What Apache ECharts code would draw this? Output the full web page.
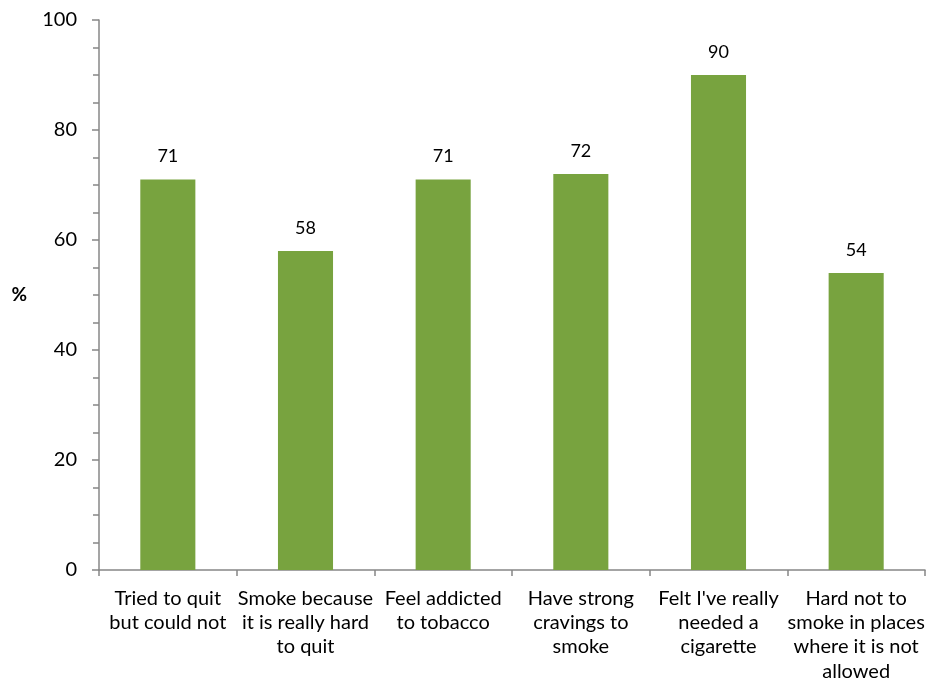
<!DOCTYPE html>
<html>
<head>
<meta charset="utf-8">
<script src="https://cdn.jsdelivr.net/npm/echarts@6/dist/echarts.min.js"></script>
<style>
  html, body { margin: 0; padding: 0; background: #fff; }
  #chart { width: 931px; height: 686px; }
</style>
</head>
<body>
<div id="chart"></div>
<script>
// Reasons reported by smokers, percentage agreeing
const categories = [
  "Tried to quit\nbut could not",
  "Smoke because\nit is really hard\nto quit",
  "Feel addicted\nto tobacco",
  "Have strong\ncravings to\nsmoke",
  "Felt I've really\nneeded a\ncigarette",
  "Hard not to\nsmoke in places\nwhere it is not\nallowed"
];
const values = [71, 58, 71, 72, 90, 54];
const yTicks = [0, 20, 40, 60, 80, 100];

const axisGray = "#878787";
const fontFamily = "Lato, 'Open Sans', sans-serif";

const chart = echarts.init(document.getElementById("chart"));
chart.setOption({
  animation: false,
  grid: { left: 99, right: 6, top: 20, bottom: 116, containLabel: false },
  xAxis: {
    type: "category",
    data: categories,
    axisLine: { lineStyle: { color: axisGray, width: 1.5 } },
    axisTick: { show: true, length: 6, lineStyle: { color: axisGray, width: 1.5 } },
    axisLabel: {
      interval: 0,
      color: "#000",
      fontFamily: fontFamily,
      fontSize: 20,
      lineHeight: 24.3,
      margin: 16
    }
  },
  yAxis: {
    type: "value",
    min: yTicks[0],
    max: yTicks[yTicks.length - 1],
    interval: 20,
    name: "%",
    nameLocation: "middle",
    nameRotate: 0,
    nameGap: 72,
    nameTextStyle: { color: "#000", fontFamily: fontFamily, fontSize: 19, fontWeight: "bold" },
    axisLine: { show: true, lineStyle: { color: axisGray, width: 1.5 } },
    axisTick: { show: true, length: 7, lineStyle: { color: axisGray, width: 1.5 } },
    minorTick: { show: true, splitNumber: 4, length: 6, lineStyle: { color: axisGray, width: 1.5 } },
    splitLine: { show: false },
    axisLabel: { color: "#000", fontFamily: fontFamily, fontSize: 20, margin: 22 }
  },
  series: [{
    type: "bar",
    data: values,
    barWidth: "40%",
    itemStyle: { color: "#78A33F" },
    label: {
      show: true,
      position: "top",
      distance: 14,
      color: "#000",
      fontFamily: fontFamily,
      fontSize: 18
    }
  }]
});
</script>
</body>
</html>
